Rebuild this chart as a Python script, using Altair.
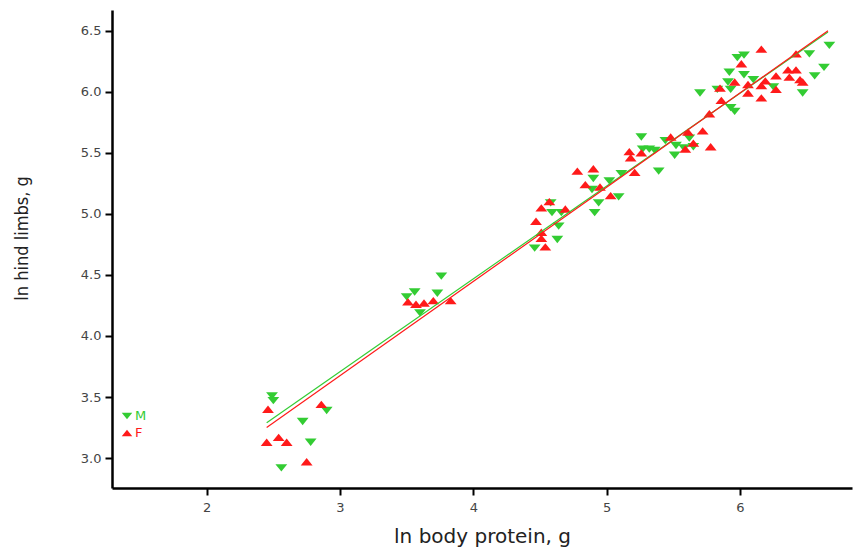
import altair as alt
import pandas as pd

# ln body protein (x) and ln hind limbs (y), males
m_x = [2.49, 2.50, 2.90, 2.72, 2.78, 2.56,
       3.76, 3.56, 3.50, 3.73, 3.60,
       4.90, 5.11, 5.02, 4.89, 5.09, 4.94, 4.91, 4.58, 4.59, 4.66, 4.64, 4.63, 4.46,
       5.26, 5.44, 5.62, 5.52, 5.58, 5.65, 5.27, 5.32, 5.36, 5.51, 5.39,
       6.03, 5.98, 6.52, 6.67, 6.63, 5.92, 6.03, 6.56, 6.10, 5.91, 5.93, 5.83,
       5.70, 6.47, 5.93, 5.96, 6.25]
m_y = [3.51, 3.47, 3.39, 3.30, 3.13, 2.92,
       4.49, 4.36, 4.32, 4.35, 4.19,
       5.29, 5.33, 5.27, 5.20, 5.14, 5.09, 5.01, 5.09, 5.01, 5.01, 4.90, 4.79, 4.72,
       5.63, 5.60, 5.62, 5.56, 5.54, 5.55, 5.53, 5.53, 5.52, 5.48, 5.35,
       6.30, 6.28, 6.31, 6.38, 6.20, 6.16, 6.14, 6.13, 6.10, 6.08, 6.02, 6.02,
       5.99, 5.99, 5.87, 5.84, 6.04]

# females
f_x = [2.46, 2.86, 2.45, 2.54, 2.60, 2.75,
       3.51, 3.57, 3.63, 3.70, 3.83,
       4.78, 4.90, 4.84, 4.95, 5.03, 4.57, 4.51, 4.69, 4.47, 4.51, 4.51, 4.54,
       5.48, 5.61, 5.72, 5.65, 5.59, 5.78, 5.17, 5.26, 5.18, 5.21,
       6.16, 6.42, 6.01, 6.36, 6.42, 6.27, 6.37, 6.45, 6.47, 6.19, 5.96, 6.06,
       6.16, 6.27, 5.85, 6.06, 6.16, 5.86, 5.77]
f_y = [3.40, 3.44, 3.13, 3.17, 3.13, 2.97,
       4.28, 4.26, 4.27, 4.29, 4.29,
       5.35, 5.37, 5.24, 5.22, 5.15, 5.10, 5.05, 5.04, 4.94, 4.85, 4.80, 4.73,
       5.63, 5.67, 5.68, 5.58, 5.53, 5.55, 5.51, 5.50, 5.46, 5.34,
       6.35, 6.31, 6.23, 6.18, 6.18, 6.13, 6.12, 6.10, 6.08, 6.09, 6.08, 6.06,
       6.05, 6.02, 6.03, 5.99, 5.95, 5.93, 5.82]

# fitted lines (endpoints)
line_x = [2.45, 6.66]
m_line_y = [3.29, 6.49]
f_line_y = [3.25, 6.50]

GREEN = "#33cc33"
RED = "#ff1a1a"
TRI_DOWN = "M-1,-0.62L1,-0.62L0,0.62Z"
TRI_UP = "M-1,0.62L1,0.62L0,-0.62Z"

pts = pd.concat([
    pd.DataFrame({"x": m_x, "y": m_y, "sex": "M"}),
    pd.DataFrame({"x": f_x, "y": f_y, "sex": "F"}),
])
lines = pd.concat([
    pd.DataFrame({"x": line_x, "y": m_line_y, "sex": "M"}),
    pd.DataFrame({"x": line_x, "y": f_line_y, "sex": "F"}),
])

xs = alt.Scale(domain=[1.29, 6.84], nice=False, zero=False)
ys = alt.Scale(domain=[2.755, 6.67], nice=False, zero=False)

x_axis = alt.Axis(
    title="ln body protein, g", values=[2, 3, 4, 5, 6], format="d",
    grid=False, domainColor="black", domainWidth=2.5, tickColor="black",
    tickWidth=2, tickSize=7, labelFont="DejaVu Sans", labelFontSize=13,
    labelColor="#444444", labelPadding=6, titleFont="DejaVu Sans",
    titleFontSize=20, titleFontWeight="normal", titleColor="#222222",
    titlePadding=12,
)
y_axis = alt.Axis(
    title="ln hind limbs, g", values=[3.0, 3.5, 4.0, 4.5, 5.0, 5.5, 6.0, 6.5],
    format=".1f", grid=False, domainColor="black", domainWidth=2.5,
    tickColor="black", tickWidth=2, tickSize=7, labelFont="DejaVu Sans",
    labelFontSize=13, labelColor="#444444", labelPadding=4,
    titleFont="DejaVu Sans Condensed", titleFontSize=18,
    titleFontWeight="normal", titleColor="#222222",
    titleX=-90, titleY=228, titleAnchor="middle", titleAlign="center",
    titleBaseline="middle", titleAngle=270,
)

color = alt.Color("sex:N", scale=alt.Scale(domain=["M", "F"], range=[GREEN, RED]), legend=None)
shape = alt.Shape("sex:N", scale=alt.Scale(domain=["M", "F"], range=[TRI_DOWN, TRI_UP]), legend=None)

points = alt.Chart(pts).mark_point(filled=True, size=140, opacity=1, strokeWidth=0).encode(
    x=alt.X("x:Q", scale=xs, axis=x_axis),
    y=alt.Y("y:Q", scale=ys, axis=y_axis),
    color=color,
    shape=shape,
)

fit = alt.Chart(lines).mark_line(strokeWidth=1.2).encode(
    x=alt.X("x:Q", scale=xs),
    y=alt.Y("y:Q", scale=ys),
    color=alt.Color("sex:N", scale=alt.Scale(domain=["M", "F"], range=["#66d966", "#ff5a5a"]), legend=None),
    detail="sex:N",
)

# key in the lower-left corner of the plot
key = pd.DataFrame({"sex": ["M", "F"], "py": [406, 423]})
key_sym = alt.Chart(key).mark_point(filled=True, size=110, opacity=1, strokeWidth=0).encode(
    x=alt.value(15), y=alt.Y("py:Q", scale=None), color=color, shape=shape,
)
key_txt = alt.Chart(key).mark_text(align="left", baseline="middle", font="DejaVu Sans", fontSize=13).encode(
    x=alt.value(23), y=alt.Y("py:Q", scale=None), text="sex:N", color=color,
)

chart = alt.layer(points, fit, key_sym, key_txt).properties(
    width=740, height=478,
    autosize=alt.AutoSizeParams(type="none"),
    padding={"left": 112, "top": 10, "right": 2, "bottom": 62},
).configure_view(stroke=None)

chart.save("out.html", embed_options={"renderer": "svg", "actions": False})
